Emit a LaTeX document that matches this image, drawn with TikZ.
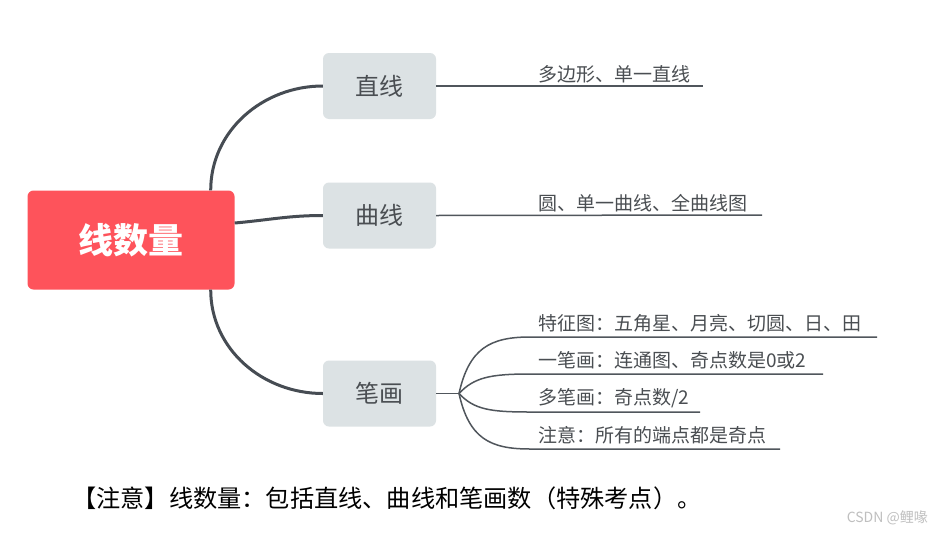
\documentclass[tikz,border=0pt]{standalone}
\usepackage{fontspec}
\newfontfamily\cjk{Noto Sans CJK SC}
\definecolor{rootred}{HTML}{FE535B}
\definecolor{boxgray}{HTML}{DCE2E4}
\definecolor{txtgray}{HTML}{4A4E52}
\definecolor{linedark}{HTML}{464C53}
\definecolor{linethin}{HTML}{50565C}
\begin{document}
\begin{tikzpicture}[x=1pt,y=-1pt,
  rootbox/.style={fill=rootred,rounded corners=6pt,minimum width=207pt,minimum height=99pt,inner sep=0pt,text=white,font=\cjk\bfseries\fontsize{35}{40}\selectfont},
  topicbox/.style={fill=boxgray,rounded corners=6pt,minimum width=113pt,minimum height=66pt,inner sep=0pt,text=txtgray,font=\cjk\fontsize{24}{28}\selectfont},
  leaf/.style={anchor=west,inner sep=0pt,text=txtgray,font=\cjk\fontsize{19}{22}\selectfont},
  thick branch/.style={draw=linedark,line width=3pt},
  thin branch/.style={draw=linethin,line width=1.5pt},
]
\useasboundingbox[fill=white] (0,0) rectangle (931,533);

\node[rootbox] (ctr) at (131,240) {线数量};
\node[topicbox] (zx) at (379.5,86) {直线};
\node[topicbox] (qx) at (379.5,215.5) {曲线};
\node[topicbox] (bh) at (379.5,393.5) {笔画};

\draw[thick branch] ([xshift=-24pt]ctr.north east) to[out=90,in=180] (zx.west);
\draw[thick branch] ([yshift=17pt]ctr.east) to[out=5,in=180] (qx.west);
\draw[thick branch] ([xshift=-24pt]ctr.south east) to[out=-90,in=180] (bh.west);

% straight-line branch
\coordinate (z1) at (703,86);
\draw[thin branch] (zx.east) -- (z1);
\node[leaf] (tz) at (538,74.5) {多边形、单一直线};

% curve branch
\coordinate (q1) at (762,215);
\draw[thin branch] (qx.east) -- (q1);
\node[leaf] (tq) at (538,203.5) {圆、单一曲线、全曲线图};

% stroke branch
\coordinate (f) at (459,393.5);
\draw[thin branch] (bh.east) -- (f);
\coordinate (e1) at (530,337); \coordinate (l1) at (877,337);
\coordinate (e2) at (530,374); \coordinate (l2) at (823,374);
\coordinate (e3) at (530,412); \coordinate (l3) at (700,412);
\coordinate (e4) at (530,449); \coordinate (l4) at (780,449);
\draw[thin branch] (f) .. controls +(10,-45) and +(-40,0) .. (e1) -- (l1);
\draw[thin branch] (f) .. controls +(15,-16) and +(-40,0) .. (e2) -- (l2);
\draw[thin branch] (f) .. controls +(15,16) and +(-40,0) .. (e3) -- (l3);
\draw[thin branch] (f) .. controls +(10,45) and +(-40,0) .. (e4) -- (l4);
\node[leaf] (b1) at (538,323.5) {特征图：五角星、月亮、切圆、日、田};
\node[leaf] (b2) at (538,360.5) {一笔画：连通图、奇点数是0或2};
\node[leaf] (b3) at (538,398.5) {多笔画：奇点数/2};
\node[leaf] (b4) at (538,435.5) {注意：所有的端点都是奇点};

% caption
\node[anchor=west,inner sep=0pt,text=black,font=\cjk\fontsize{24.2}{27}\selectfont] (cap) at (72,498) {【注意】线数量：包括直线、曲线和笔画数（特殊考点）。};
\node[anchor=east,inner sep=0pt,text=black!25,font=\cjk\fontsize{14}{16}\selectfont] (wm) at (928,518) {CSDN @鲤喙};
\end{tikzpicture}
\end{document}
